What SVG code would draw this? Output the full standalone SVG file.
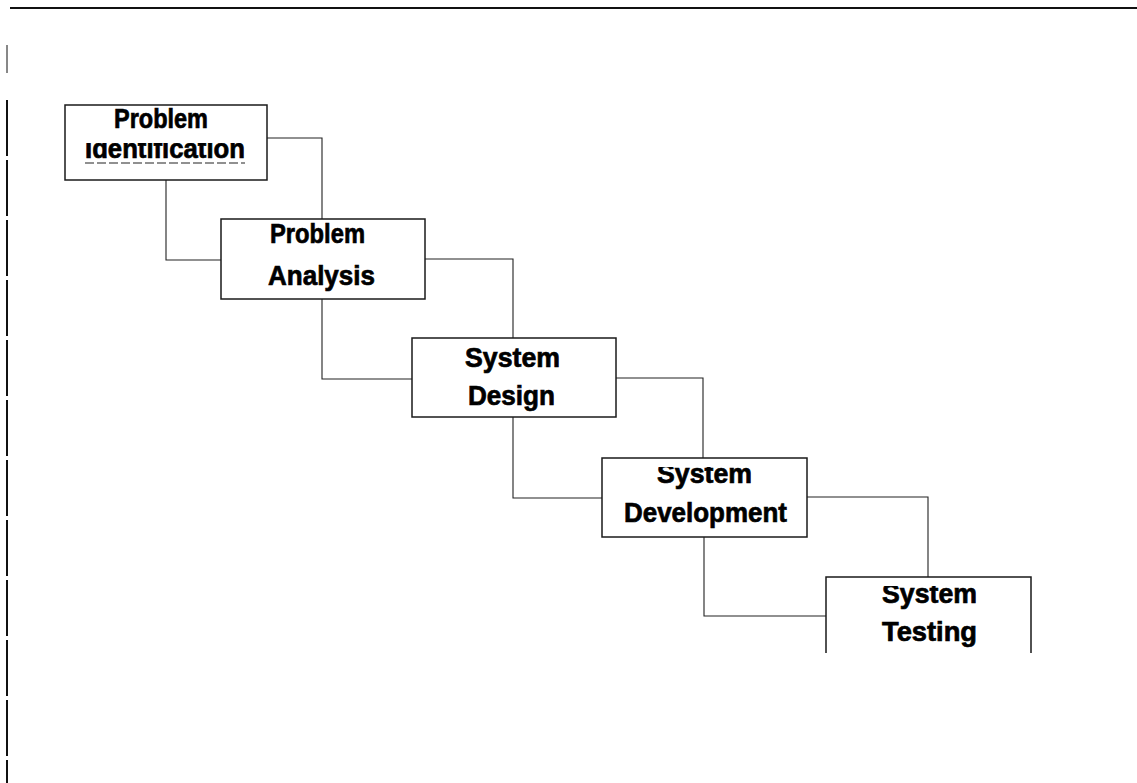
<svg xmlns="http://www.w3.org/2000/svg" width="1137" height="783" viewBox="0 0 1137 783">
  <style>
    .box { fill: #ffffff; stroke: #1a1a1a; stroke-width: 1.5; }
    .open { fill: #ffffff; stroke: #1a1a1a; stroke-width: 1.5; }
    .wire { fill: none; stroke: #222222; stroke-width: 1.1; }
    .frame { fill: none; stroke: #111111; }
    .lbl { font-family: "Liberation Sans", Arial, sans-serif; font-weight: bold; font-size: 28px; fill: #000000; stroke: #000000; stroke-width: 0.7; }
  </style>
  <defs>
    <!-- upper parts of some labels are cut away -->
    <clipPath id="cutIdent"><rect x="60" y="143" width="220" height="40"/></clipPath>
    <clipPath id="cutSysDev"><rect x="600" y="467" width="210" height="40"/></clipPath>
    <clipPath id="cutSysTest"><rect x="826" y="586" width="210" height="40"/></clipPath>
  </defs>

  <rect width="1137" height="783" fill="#ffffff"/>

  <!-- page frame -->
  <g id="frame">
    <line class="frame" x1="10" y1="8" x2="1137" y2="8" stroke-width="2"/>
    <line class="frame" x1="7" y1="45" x2="7" y2="73" stroke-width="1"/>
    <line class="frame" x1="7" y1="100" x2="7" y2="783" stroke-width="2" stroke-dasharray="56 4"/>
  </g>

  <!-- connectors -->
  <g id="connectors">
    <polyline class="wire" points="267,138 322,138 322,219"/>
    <polyline class="wire" points="166,180 166,260 221,260"/>
    <polyline class="wire" points="425,259 513,259 513,338"/>
    <polyline class="wire" points="322,299 322,379 412,379"/>
    <polyline class="wire" points="616,378 703,378 703,458"/>
    <polyline class="wire" points="513,417 513,498 602,498"/>
    <polyline class="wire" points="807,497 928,497 928,577"/>
    <polyline class="wire" points="704,537 704,616 826,616"/>
  </g>

  <g id="problem-identification">
    <rect class="box" x="65" y="105" width="202" height="75"/>
    <text class="lbl" x="114" y="128" textLength="94" lengthAdjust="spacingAndGlyphs">Problem</text>
    <text class="lbl" x="85" y="158" textLength="160" lengthAdjust="spacingAndGlyphs" clip-path="url(#cutIdent)">Identification</text>
    <line x1="85" y1="163" x2="245" y2="163" stroke="#222222" stroke-width="1.2" stroke-dasharray="9 3"/>
  </g>

  <g id="problem-analysis">
    <rect class="box" x="221" y="219" width="204" height="80"/>
    <text class="lbl" x="270" y="243" textLength="95" lengthAdjust="spacingAndGlyphs">Problem</text>
    <text class="lbl" x="268" y="285" textLength="107" lengthAdjust="spacingAndGlyphs">Analysis</text>
  </g>

  <g id="system-design">
    <rect class="box" x="412" y="338" width="204" height="79"/>
    <text class="lbl" x="465" y="367" textLength="95" lengthAdjust="spacingAndGlyphs">System</text>
    <text class="lbl" x="468" y="405" textLength="87" lengthAdjust="spacingAndGlyphs">Design</text>
  </g>

  <g id="system-development">
    <rect class="box" x="602" y="458" width="205" height="79"/>
    <text class="lbl" x="657" y="483" textLength="95" lengthAdjust="spacingAndGlyphs" clip-path="url(#cutSysDev)">System</text>
    <text class="lbl" x="624" y="522" textLength="163" lengthAdjust="spacingAndGlyphs">Development</text>
  </g>

  <g id="system-testing">
    <path class="open" d="M826,653 V577 H1031 V653"/>
    <text class="lbl" x="882" y="603" textLength="95" lengthAdjust="spacingAndGlyphs" clip-path="url(#cutSysTest)">System</text>
    <text class="lbl" x="882" y="641" textLength="95" lengthAdjust="spacingAndGlyphs">Testing</text>
  </g>
</svg>
